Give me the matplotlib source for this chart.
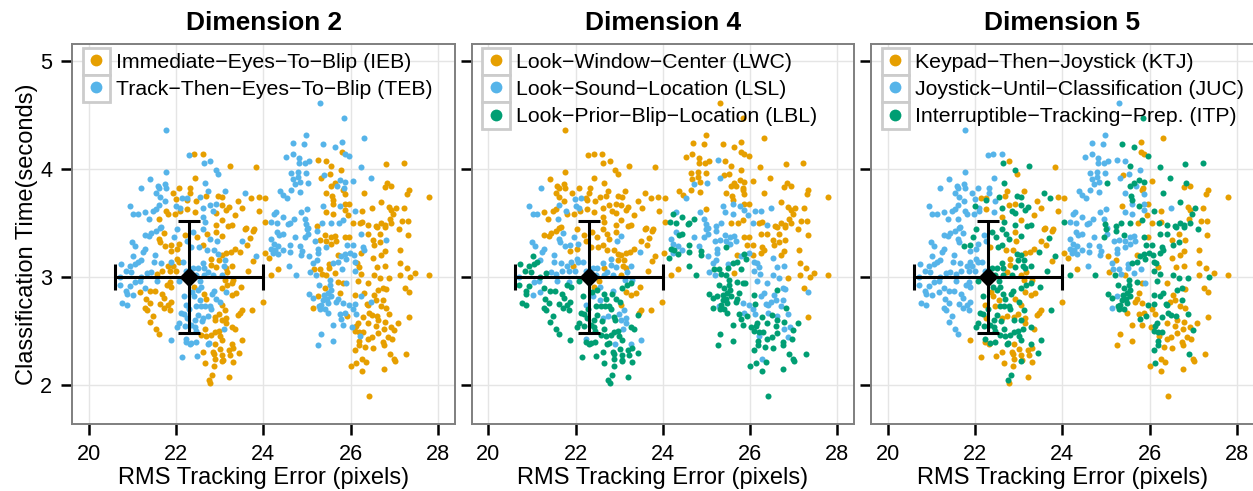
import matplotlib
matplotlib.use("Agg")
import matplotlib.pyplot as plt
from matplotlib.lines import Line2D
from matplotlib.patches import Rectangle

plt.rcParams['font.family'] = ['Liberation Sans', 'DejaVu Sans']

rms_error = [
 25.31,25.84,21.76,26.32,24.98,24.69,24.94,25.38,25.80,25.64,
 25.80,25.87,25.97,22.29,22.42,22.61,24.53,24.67,24.82,24.82,
 24.96,25.05,25.26,25.43,25.56,25.79,26.24,26.82,27.22,22.63,
 22.78,23.23,23.82,22.91,22.96,21.76,22.43,21.40,21.20,21.58,
 21.74,21.76,21.61,21.54,21.62,22.65,22.07,22.32,22.31,21.92,
 21.99,22.13,22.24,22.55,22.74,22.69,22.96,23.06,23.13,23.58,
 23.72,23.89,24.04,23.42,23.52,23.91,24.38,24.46,24.54,24.64,
 24.80,24.99,24.67,24.80,25.32,25.40,25.52,25.77,25.87,26.06,
 26.46,24.72,24.85,25.02,24.64,24.85,25.56,25.64,25.68,25.83,
 25.87,25.85,25.44,25.58,25.60,26.31,26.78,26.84,26.93,27.34,
 27.30,27.80,26.71,26.88,27.04,27.23,26.93,26.49,26.26,26.11,
 25.97,25.87,25.77,25.60,25.37,25.43,25.60,25.87,25.95,25.00,
 24.86,24.24,24.30,24.44,24.71,24.95,24.17,24.31,24.57,24.61,
 24.04,20.93,21.02,21.12,21.28,21.37,21.47,21.54,21.61,21.74,
 21.60,21.77,21.81,21.97,22.00,22.09,22.25,22.45,22.08,22.25,
 22.43,22.62,22.77,22.92,23.04,22.84,22.92,23.15,23.21,23.34,
 22.62,22.65,23.04,22.92,23.28,23.19,23.61,23.78,21.66,25.23,
 25.34,25.56,25.73,25.83,26.06,26.21,26.27,26.40,26.58,26.71,
 26.80,26.94,27.18,27.31,26.90,26.98,24.99,25.03,22.02,21.62,
 21.54,21.43,21.28,21.38,21.71,21.61,21.64,21.75,21.96,22.06,
 21.87,22.03,21.87,22.20,22.24,22.38,22.62,22.71,22.92,23.04,
 22.77,22.94,22.48,22.35,22.52,22.62,22.71,22.87,23.76,23.59,
 23.69,23.51,23.63,23.34,23.47,23.25,23.15,22.96,22.81,23.05,
 23.11,22.98,23.76,23.82,23.65,24.03,24.14,24.18,24.34,24.59,
 24.76,24.18,24.31,24.36,24.45,24.24,24.34,24.18,24.26,24.45,
 24.60,24.60,24.34,24.23,24.72,24.83,24.88,24.87,25.04,24.95,
 25.03,25.00,25.22,25.19,25.25,25.25,25.44,25.22,25.14,25.06,
 25.17,25.29,25.20,25.34,25.44,25.50,25.64,25.80,25.42,25.30,
 25.55,25.64,25.44,25.55,25.67,25.87,25.97,26.06,25.92,26.28,
 26.32,26.25,25.98,25.87,25.79,25.71,25.90,25.71,25.60,25.50,
 26.07,26.10,26.15,26.20,26.10,26.23,26.17,26.39,26.53,26.67,
 26.88,27.14,27.14,27.29,27.47,27.37,27.79,26.61,26.78,27.13,
 26.52,26.71,26.78,26.81,26.67,26.55,26.52,26.40,26.25,26.67,
 26.80,26.61,27.11,27.32,27.24,27.34,25.83,25.89,25.52,25.52,
 25.28,25.71,25.75,25.41,25.55,25.48,25.39,25.25,25.05,25.14,
 25.56,25.71,25.45,25.37,25.48,25.33,25.28,25.14,25.41,25.31,
 25.48,25.83,25.67,25.75,25.87,25.97,26.10,26.25,26.31,26.11,
 26.06,25.92,25.79,26.12,25.60,25.83,26.03,26.17,26.13,26.39,
 26.28,26.41,26.37,26.48,26.55,26.59,26.63,26.75,26.81,26.75,
 26.50,26.61,26.42,26.71,26.82,26.88,26.63,26.78,26.59,26.92,
 27.09,26.99,27.34,26.77,26.63,26.86,26.96,27.28,26.90,26.75,
 26.76,26.50,26.40,26.29,26.20,26.10,26.21,26.19,26.19,26.34,
 26.52,26.10,26.27,26.36,26.13,26.00,26.27,26.76,26.99,27.01,
 26.42,25.60,25.32,25.26,20.99,21.06,21.28,21.23,21.01,21.19,
 21.12,21.05,21.51,21.50,21.66,22.02,22.06,21.89,21.93,21.81,
 21.99,21.85,21.68,21.55,21.43,21.32,21.19,20.93,20.73,20.84,
 20.97,20.70,20.71,20.93,21.05,21.16,21.28,20.86,20.87,21.02,
 20.76,20.87,21.18,21.30,21.41,21.52,21.39,21.28,21.33,21.68,
 21.73,21.62,21.72,21.81,21.87,21.85,21.47,21.41,21.54,21.61,
 21.57,21.79,21.85,21.89,22.07,22.42,22.54,22.56,22.50,22.37,
 22.17,22.40,22.64,22.69,22.86,22.83,23.06,23.15,23.28,23.38,
 23.27,23.48,23.17,23.99,22.92,23.01,23.04,22.46,22.57,22.67,
 22.77,22.55,22.23,22.29,22.12,22.19,22.25,22.80,23.11,22.99,
 22.50,22.62,22.74,22.88,23.05,23.15,23.15,23.42,23.50,23.73,
 23.46,22.90,22.60,22.43,22.35,22.02,22.07,22.20,22.43,23.28,
 23.34,23.09,22.65,22.45,22.98,22.88,22.81,22.69,22.57,23.00,
 23.06,21.87,22.23,22.23,22.45,22.35,22.31,22.72,22.76,22.90,
 23.50,23.28,23.30,23.21,22.62,22.85,22.87,23.01,23.23,23.43,
 23.06,23.07,22.89,22.14,22.47,22.65,22.87,23.06,23.30,22.83,
 23.21,22.75,22.78,22.39,22.50,22.62,22.64,22.81,22.92,23.09,
 23.28,23.15,22.73,22.46,22.64,22.85,23.04,23.17,23.13,23.30,
 22.23,22.16,
]

classification_time = [
 4.61,4.47,4.36,4.29,4.31,4.24,4.23,4.23,4.25,4.20,
 4.16,4.14,4.12,4.13,4.14,4.14,4.11,4.14,4.10,4.06,
 4.06,4.07,4.08,4.07,4.03,3.99,4.02,4.05,4.06,4.06,
 4.07,4.03,4.02,3.99,3.95,3.97,3.92,3.91,3.82,3.84,
 3.86,3.82,3.82,3.78,3.74,3.87,3.82,3.82,3.78,3.78,
 3.72,3.73,3.73,3.74,3.80,3.75,3.75,3.74,3.80,3.78,
 3.73,3.74,3.73,3.70,3.64,3.61,3.80,3.76,3.73,3.96,
 3.97,3.96,3.91,3.93,3.92,3.94,3.95,3.90,3.88,3.89,
 3.92,3.86,3.88,3.87,3.81,3.79,3.84,3.87,3.84,3.81,
 3.77,3.82,3.78,3.75,3.71,3.78,3.83,3.87,3.84,3.81,
 3.77,3.74,3.69,3.65,3.64,3.64,3.62,3.64,3.61,3.61,
 3.68,3.68,3.66,3.68,3.66,3.60,3.58,3.62,3.57,3.63,
 3.60,3.58,3.60,3.56,3.54,3.54,3.51,3.50,3.49,3.50,
 3.51,3.66,3.58,3.58,3.60,3.54,3.61,3.63,3.67,3.70,
 3.54,3.61,3.58,3.58,3.66,3.61,3.71,3.70,3.64,3.63,
 3.60,3.64,3.67,3.68,3.67,3.61,3.59,3.62,3.65,3.57,
 3.56,3.51,3.53,3.48,3.48,3.47,3.45,3.44,3.46,3.47,
 3.50,3.50,3.50,3.53,3.50,3.50,3.51,3.48,3.47,3.50,
 3.48,3.50,3.52,3.52,3.54,3.58,3.49,3.45,3.44,3.45,
 3.43,3.41,3.39,3.38,3.41,3.35,3.32,3.29,3.37,3.31,
 3.30,3.26,3.24,3.39,3.33,3.42,3.44,3.40,3.42,3.38,
 3.35,3.33,3.37,3.28,3.28,3.30,3.25,3.25,3.43,3.44,
 3.36,3.33,3.30,3.26,3.23,3.23,3.22,3.21,3.17,3.20,
 3.16,3.16,3.15,3.19,3.06,3.22,3.18,3.02,3.07,3.10,
 3.02,3.35,3.42,3.39,3.40,3.31,3.29,3.26,3.25,3.25,
 3.30,3.23,3.21,3.22,3.37,3.29,3.24,3.20,3.19,3.37,
 3.40,3.44,3.43,3.33,3.26,3.22,3.28,3.16,3.13,3.05,
 3.07,3.07,3.02,3.03,3.02,3.08,3.04,3.07,3.39,3.34,
 3.37,3.38,3.33,3.31,3.33,3.37,3.37,3.30,3.30,3.28,
 3.25,3.22,3.22,3.21,3.19,3.20,3.17,3.14,3.13,3.12,
 3.20,3.14,3.13,3.09,3.06,3.03,2.96,2.94,3.02,2.99,
 2.99,3.13,3.02,3.08,3.04,3.00,3.02,3.09,3.10,3.25,
 3.18,3.20,3.24,3.34,3.32,3.30,3.34,3.40,3.40,3.40,
 3.46,3.46,3.44,3.39,2.90,2.86,2.94,2.94,2.97,2.93,
 2.93,2.95,2.85,2.90,2.88,2.85,2.83,2.82,2.84,2.81,
 2.82,2.80,2.80,2.79,2.76,2.74,2.73,2.71,2.70,2.70,
 2.67,2.76,2.77,2.66,2.67,2.74,2.83,2.82,2.85,2.75,
 2.70,2.64,2.61,2.66,2.56,2.56,2.54,2.57,2.55,2.57,
 2.63,2.74,2.75,2.77,2.83,2.79,2.88,2.90,2.89,2.79,
 2.65,2.64,2.67,2.73,2.71,2.66,2.60,2.58,2.55,2.54,
 2.57,2.51,2.63,2.52,2.48,2.44,2.43,2.29,2.29,2.40,
 2.37,2.44,2.43,2.49,2.49,2.50,2.45,2.41,2.37,2.35,
 2.34,2.32,2.24,2.21,2.20,2.18,2.13,2.15,2.24,2.22,
 1.90,2.41,2.47,2.37,3.32,3.29,3.26,3.23,3.19,3.16,
 3.14,3.12,3.20,3.14,3.13,3.17,3.14,3.14,3.10,3.10,
 3.06,3.06,3.06,3.03,3.05,3.04,3.00,3.10,3.12,3.06,
 3.05,3.00,2.93,2.92,2.95,2.96,2.90,2.87,2.84,2.83,
 2.76,2.74,2.86,2.80,2.87,2.87,2.76,2.71,2.69,2.84,
 2.81,2.75,2.71,2.74,2.77,2.69,2.64,2.58,2.52,2.47,
 2.96,2.93,2.95,2.91,2.96,2.91,2.96,2.91,2.88,2.86,
 2.82,2.82,2.84,2.80,2.87,2.84,2.90,2.86,2.83,2.85,
 2.94,2.91,2.93,2.77,2.80,2.77,2.74,2.73,2.73,2.73,
 2.73,2.79,2.74,2.70,2.67,2.66,2.62,2.70,2.69,2.66,
 2.65,2.62,2.64,2.63,2.60,2.62,2.57,2.65,2.69,2.69,
 2.67,2.60,2.59,2.60,2.56,2.54,2.57,2.55,2.54,2.54,
 2.52,2.52,2.52,2.50,2.50,2.49,2.46,2.45,2.46,2.45,
 2.42,2.42,2.43,2.40,2.40,2.39,2.38,2.38,2.39,2.38,
 2.42,2.38,2.34,2.32,2.31,2.31,2.29,2.33,2.28,2.30,
 2.28,2.23,2.24,2.26,2.27,2.20,2.18,2.22,2.21,2.09,
 2.07,2.05,2.02,3.08,3.08,3.13,3.08,3.11,3.09,3.10,
 3.10,3.08,3.05,3.02,3.02,3.02,3.02,3.05,2.97,2.97,
 3.06,3.14,
]

# For each point: group in Dimension 2, Dimension 4, Dimension 5
# (O = first legend entry, B = second, G = third)
point_groups = [
 "BOB","BOG","BOB","BOO","BOB","BOB","BOB","BOG","BOO","BOG",
 "OOO","BOO","BOG","BOB","OOB","OOB","BOB","BOB","BOB","BOB",
 "BOB","BOB","OBB","OOB","OOG","OOB","BOG","OOG","OOG","BOG",
 "BOO","OOG","OOO","BOG","BOO","BOB","OOB","BOB","BBB","BOB",
 "BOB","BOB","BOB","BOB","BOB","BOG","OOB","OOB","OOB","OOB",
 "OBB","BBO","BOO","BOG","BOO","OOO","OOG","OOG","BOO","BOG",
 "OOG","OOO","OOO","OOO","OOO","OOO","BOB","BOB","BBB","BOB",
 "BOB","BOB","BOB","BOB","OBB","BOO","OOB","BOG","BOG","BOO",
 "BOG","BBB","BOB","BBG","BOB","BOB","OOG","OOG","BOB","OOO",
 "OOB","BOO","OOB","OOG","OOG","OOG","OOO","OOG","OOO","OOO",
 "OOO","OOO","OOG","OOO","OOG","OOO","OOO","OBB","OBO","BBG",
 "OOO","OOB","BBG","OBB","BBO","OBB","OBB","OBB","OBO","BOB",
 "BBB","BGB","BBB","BGB","BGB","BBB","BGB","BGB","BGB","BGB",
 "OOG","BBB","BBB","BBB","BOB","BOB","BOB","BOB","BBB","BOB",
 "OBB","OBB","OOB","OOB","BBG","OOB","OOG","OOB","BBB","OOO",
 "OOB","BOG","BOO","BOO","OOG","BOG","OOG","OOG","OOG","OOO",
 "BOO","BOG","OOO","OOG","OOG","OOG","OOO","OOO","BOB","OBG",
 "BBG","BOG","BOO","BOG","OBO","OOG","OOO","OBG","OOG","OOG",
 "OOG","OOG","OOO","OOO","OOO","OOG","BBG","BBB","BOG","BOB",
 "BOB","BOB","BOB","BOB","OBB","OBB","OBB","OBG","BBG","OBB",
 "OBG","OOB","OOB","OOB","BOB","BOG","BOG","OOG","OOO","OBG",
 "BOG","BBO","OOG","BOO","BOG","OOG","BOO","BOO","OOO","OOO",
 "OOG","BOO","OOO","OOO","OBG","OOO","OOO","BOG","OBO","OOG",
 "BOG","OOG","OOO","BOG","OOG","OOO","OGO","OOG","OOO","BGB",
 "BGG","BBB","BBB","BGB","BGB","BBB","BBB","BGB","BGB","BBB",
 "BGB","BGB","BGB","BBB","BBB","BBB","BGB","BGB","BBO","BBG",
 "BBB","BBG","BBG","BBB","BBB","BBB","BGB","BBO","BBB","BBO",
 "OGB","OGB","BBG","OGB","OGO","OGB","OOB","BGB","OBG","OBB",
 "OBB","OBB","OBB","OBB","OBB","OOG","OOO","BOG","BOG","BOG",
 "BOG","OOG","BBG","BGG","BBG","OOO","BGG","BGG","BGG","OBB",
 "BOG","BBG","OBG","OBO","BBG","OBG","OBG","OBO","OBG","OBG",
 "OOG","OOO","OOO","OOO","OOO","OOG","OOO","OBO","OBO","OOO",
 "OBO","OOO","OOO","BOO","OOG","OOG","OOO","OOG","BOG","OOO",
 "OOG","OOG","OOG","OOO","OOO","OBO","OGO","BGB","BGG","BGG",
 "BGG","OGG","OGO","OGG","BGG","BGG","BGG","OGB","BGG","BGG",
 "BGG","BGO","BGG","BGG","BGG","BGG","BBG","OGB","BGG","BGG",
 "BGO","BBO","BGO","BGO","BBO","BBG","OGG","BBG","OBG","BGG",
 "BBO","OGG","BGG","BBO","BGO","BGO","BGO","OGG","OGG","OGO",
 "OGG","OBG","OBG","BBO","OBO","OBO","OGG","OBG","OBO","OBG",
 "OGG","OBG","OBG","OBO","OGO","OBG","OGO","OGO","OGO","OBO",
 "OGO","OGG","OOO","OBO","OGO","OBO","OGO","OGO","OGG","OGO",
 "OGO","OGO","OGO","OGG","OGG","OGG","BBO","OGG","OGG","OGO",
 "OGO","OGG","OBO","OGO","OGG","OGO","OGO","OGO","OGO","OGO",
 "OGO","BGO","BGO","BGO","BBB","BBB","BBB","BBB","BGB","BBB",
 "BGB","BGB","BBB","BBB","BBB","OBB","OBB","BBB","OOB","OBB",
 "OBB","OBB","OBB","OBB","BBB","BGB","BGB","BGB","BGB","BGB",
 "BGB","BBB","BGB","BGB","BBB","BBB","BGB","BGB","BGB","BBB",
 "BGB","BGB","OBB","OGB","OGB","OGB","OGB","OGB","OGB","OGB",
 "OGB","OGB","OGB","OGB","OGB","OGB","OGB","OGB","OGB","OGB",
 "BBB","OGB","OBB","OGB","BGG","OOG","BOG","BBG","BGG","BGO",
 "BGG","BBO","OGG","OGG","BBG","BGG","OGG","BOO","OOO","OOO",
 "OGG","OOG","OGG","OOO","BGO","BGG","OOO","BGO","BGG","BGG",
 "BGG","BBO","BBO","BGG","BGG","BGG","BGO","BGG","OBG","OBO",
 "BGG","BBO","BBO","OGO","OBG","OBO","OBO","OGO","OOO","OOG",
 "OOO","OGG","BGG","BGG","BGG","BGG","BGG","BGG","BGG","OGG",
 "OGO","BBG","OGG","BGG","OGG","OGG","OGG","OGG","OGG","OGG",
 "OGG","BGO","BBG","BGO","BGG","BGG","BGO","BGG","BGG","OBO",
 "OBG","OBG","OGO","OGO","OGO","OGO","OGO","OGO","OGO","OGG",
 "OGO","OGO","OGO","BGO","BGO","OGO","OGO","OGG","OGO","OGG",
 "OGO","OGG","OGO","BBG","BBG","BBG","BOG","OBO","OBG","BOG",
 "OBG","OOG","BBO","BBG","BBG","BBG","BOO","OBO","OBO","OBO",
 "BBB","BBB",
]

assert len(rms_error) == len(classification_time) == len(point_groups)

titles = ["Dimension 2", "Dimension 4", "Dimension 5"]
dim2_labels = ["Immediate\u2212Eyes\u2212To\u2212Blip (IEB)", "Track\u2212Then\u2212Eyes\u2212To\u2212Blip (TEB)"]
dim4_labels = ["Look\u2212Window\u2212Center (LWC)", "Look\u2212Sound\u2212Location (LSL)",
               "Look\u2212Prior\u2212Blip\u2212Location (LBL)"]
dim5_labels = ["Keypad\u2212Then\u2212Joystick (KTJ)", "Joystick\u2212Until\u2212Classification (JUC)",
               "Interruptible\u2212Tracking\u2212Prep. (ITP)"]
panel_labels = [dim2_labels, dim4_labels, dim5_labels]
x_ticks = [20, 22, 24, 26, 28]
y_ticks = [2, 3, 4, 5]
mean_x, mean_y = 22.3, 3.0
sd_x, sd_y = 1.7, 0.52
group_codes = ["O", "B", "G"]
group_colors = {"O": "#E69F00", "B": "#56B4E9", "G": "#009E73"}

W, H = 1253, 491
fig = plt.figure(figsize=(W / 100, H / 100), dpi=100)
lefts = [72.3, 471.8, 871.3]
pw, top, bottom = 382.4, 44.0, 423.7

for p, left in enumerate(lefts):
    ax = fig.add_axes([left / W, 1 - bottom / H, pw / W, (bottom - top) / H])
    ax.set_xlim(19.617, 28.39)
    ax.set_ylim(1.642, 5.157)
    ax.set_xticks(x_ticks)
    ax.set_yticks(y_ticks)
    ax.grid(True, color="#e5e5e5", lw=1.0)
    ax.set_axisbelow(True)
    for s in ax.spines.values():
        s.set_color("#7f7f7f")
        s.set_linewidth(1.4)
    ax.tick_params(length=8, width=1.8, color="black", labelsize=15.6, pad=6.5)
    if p > 0:
        ax.tick_params(axis="y", labelleft=False)
    else:
        ax.set_ylabel("Classification Time(seconds)", fontsize=17, labelpad=1.5)
    ax.set_xlabel("RMS Tracking Error (pixels)", fontsize=17, labelpad=1.5)
    ax.set_title(titles[p], fontsize=18.9, fontweight="bold", pad=10)

    for code in group_codes:
        xs = [x for x, g in zip(rms_error, point_groups) if g[p] == code]
        ys = [y for y, g in zip(classification_time, point_groups) if g[p] == code]
        ax.scatter(xs, ys, s=19, color=group_colors[code], linewidths=0, zorder=3)

    ax.errorbar(mean_x, mean_y, xerr=sd_x, color="black", elinewidth=2.2, capsize=9.7,
                capthick=2.2, zorder=4)
    ax.errorbar(mean_x, mean_y, yerr=sd_y, color="black", elinewidth=2.2, capsize=7.9,
                capthick=2.2, marker="D", markersize=9, zorder=4)

    labels = panel_labels[p]
    kx0, kh = 10.4, 27.3
    for r in range(len(labels)):
        ax.add_patch(Rectangle((kx0 / pw, 1 - (3.5 + kh * (r + 1)) / (bottom - top)),
                               kh / pw, kh / (bottom - top), transform=ax.transAxes,
                               facecolor="white", edgecolor="#cccccc", lw=2.0, zorder=5))
    handles = [Line2D([], [], ls="", marker="o", ms=8.5, mew=0, color=group_colors[c])
               for c in group_codes[:len(labels)]]
    ax.legend(handles, labels, loc="upper left",
              bbox_to_anchor=(kx0 / pw, 1 - 3.5 / (bottom - top)), borderaxespad=0, borderpad=0.24,
              frameon=False, fontsize=15.3, handlelength=0.8, handletextpad=0.53,
              labelspacing=0.39).set_zorder(6)

fig.savefig("out.png", dpi=100)
